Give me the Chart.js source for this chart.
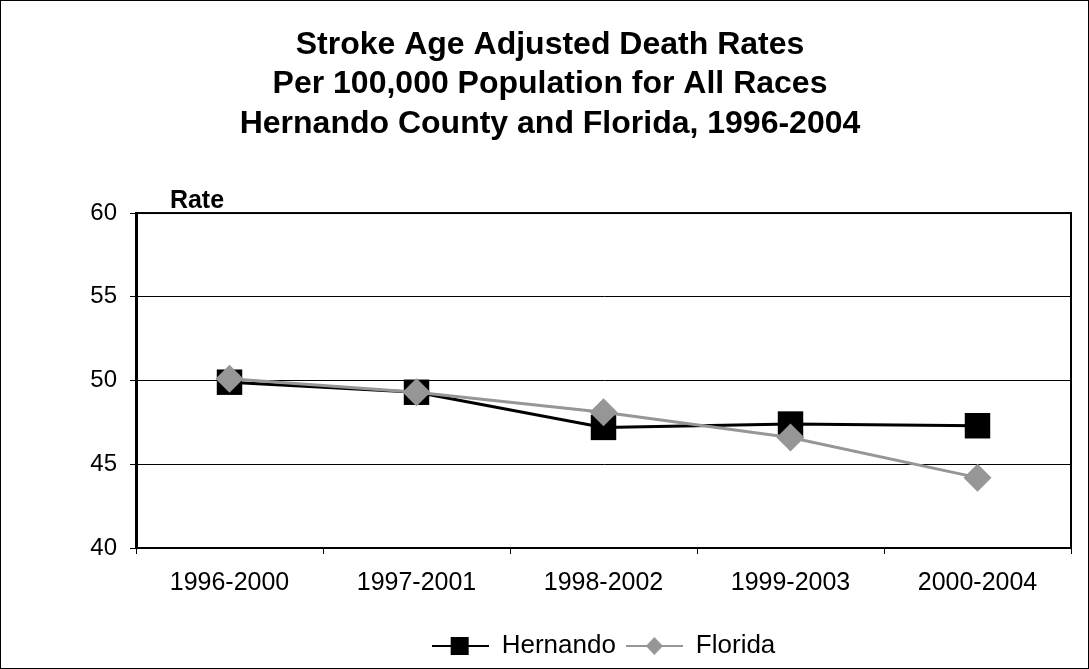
<!DOCTYPE html>
<html>
<head>
<meta charset="utf-8">
<script src="https://cdn.jsdelivr.net/npm/chart.js@4/dist/chart.umd.min.js"></script>
<style>
  html, body { margin: 0; padding: 0; background: #fff; }
  #wrap { width: 1089px; height: 669px; }
</style>
</head>
<body>
<div id="wrap"><canvas id="chart"></canvas></div>
<script>
// 数据
const periods = ['1996-2000', '1997-2001', '1998-2002', '1999-2003', '2000-2004'];
const hernandoRates = [49.9, 49.3, 47.2, 47.4, 47.3];
const floridaRates = [50.1, 49.3, 48.1, 46.6, 44.2];
const titleLines = [
  'Stroke Age Adjusted Death Rates',
  'Per 100,000 Population for All Races',
  'Hernando County and Florida, 1996-2004'
];

const FONT = '"Liberation Sans", Arial, sans-serif';

// 图例图标：线 + 标记
function legendIcon(color, shape) {
  const c = document.createElement('canvas');
  c.width = 57; c.height = 22;
  const ctx = c.getContext('2d');
  ctx.strokeStyle = color;
  ctx.lineWidth = 2;
  ctx.beginPath(); ctx.moveTo(0, 11); ctx.lineTo(57, 11); ctx.stroke();
  ctx.fillStyle = color;
  if (shape === 'rect') {
    ctx.fillRect(19, 2, 18, 18);
  } else {
    ctx.beginPath();
    ctx.moveTo(28.5, 2); ctx.lineTo(37, 11); ctx.lineTo(28.5, 20); ctx.lineTo(20, 11);
    ctx.closePath(); ctx.fill();
  }
  return c;
}

const frame = {
  id: 'frame',
  beforeDraw(chart) {
    const ctx = chart.ctx;
    ctx.save();
    ctx.fillStyle = '#fff';
    ctx.fillRect(0, 0, chart.width, chart.height);
    ctx.restore();
  },
  afterDatasetsDraw(chart) {
    const { ctx, chartArea: a } = chart;
    ctx.save();
    ctx.strokeStyle = '#000';
    ctx.lineWidth = 2;
    ctx.strokeRect(a.left, a.top, a.right - a.left, a.bottom - a.top);
    ctx.fillStyle = '#000';
    ctx.font = 'bold 25px ' + FONT;
    ctx.textAlign = 'center';
    ctx.textBaseline = 'alphabetic';
    ctx.fillText('Rate', a.left + 61, a.top - 5);
    ctx.lineWidth = 1;
    ctx.strokeRect(0.5, 0.5, chart.width - 1, chart.height - 1);
    ctx.restore();
  }
};

new Chart(document.getElementById('chart'), {
  type: 'line',
  data: {
    labels: periods,
    datasets: [
      {
        label: 'Hernando',
        data: hernandoRates,
        borderColor: '#000',
        backgroundColor: '#000',
        borderWidth: 3,
        pointStyle: 'rect',
        pointRadius: 18,
        pointBorderWidth: 0,
        order: 1,
      },
      {
        label: 'Florida',
        data: floridaRates,
        borderColor: '#969696',
        backgroundColor: '#969696',
        borderWidth: 3,
        pointStyle: 'rectRot',
        pointRadius: 14,
        pointBorderWidth: 0,
        order: 0,
      }
    ]
  },
  options: {
    responsive: true,
    maintainAspectRatio: false,
    animation: false,
    layout: { padding: { left: 25, right: 14, top: 0, bottom: 0 } },
    scales: {
      x: {
        offset: true,
        afterFit(scale) { scale.height = 75; },
        grid: { display: true, drawOnChartArea: false, drawTicks: true, tickLength: 6, color: '#000', offset: true },
        border: { color: '#000', width: 2 },
        ticks: { color: '#000', font: { family: FONT, size: 25 }, padding: 14 },
      },
      y: {
        min: 40,
        max: 60,
        afterFit(scale) { scale.width = 111; },
        grid: { color: '#000', lineWidth: 1, tickLength: 6 },
        border: { color: '#000', width: 3 },
        ticks: { stepSize: 5, color: '#000', font: { family: FONT, size: 24 }, padding: 13 },
      }
    },
    plugins: {
      title: {
        display: true,
        text: titleLines,
        color: '#000',
        font: { family: FONT, size: 32, weight: 'bold', lineHeight: 1.24 },
        padding: { top: 25, bottom: 69 },
      },
      legend: {
        position: 'bottom',
        fullSize: false,
        labels: {
          usePointStyle: true,
          pointStyleWidth: 57,
          color: '#000',
          font: { family: FONT, size: 26 },
          padding: 10,
          sort: (a, b) => a.datasetIndex - b.datasetIndex,
          generateLabels(chart) {
            return chart.data.datasets.map((ds, i) => ({
              text: ds.label,
              datasetIndex: i,
              fillStyle: ds.backgroundColor,
              strokeStyle: ds.borderColor,
              lineWidth: 0,
              pointStyle: legendIcon(ds.borderColor, i === 0 ? 'rect' : 'diamond'),
              hidden: false,
            }));
          }
        }
      },
      tooltip: { enabled: false },
    }
  },
  plugins: [frame]
});
</script>
</body>
</html>
